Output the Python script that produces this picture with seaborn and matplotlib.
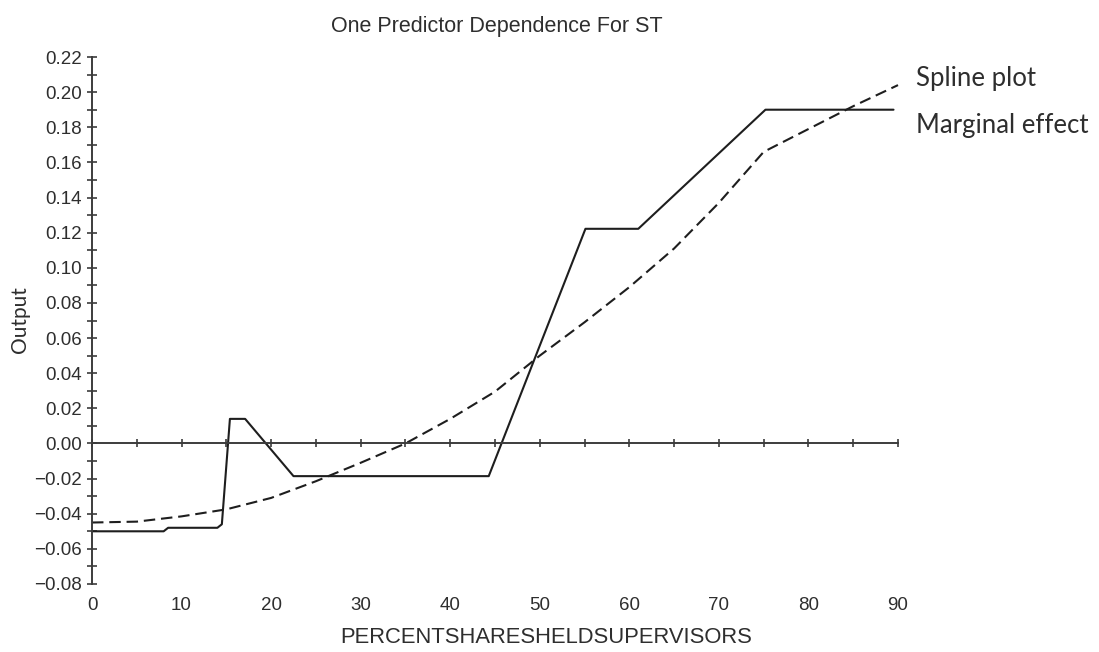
import numpy as np
import pandas as pd
import matplotlib
matplotlib.use("Agg")
import matplotlib.pyplot as plt
from matplotlib.ticker import MultipleLocator
import seaborn as sns

# ---- data ----
marginal_x = [0, 8, 8.5, 14, 14.5, 15.4, 17.1, 22.5, 44.3, 55.1, 61.0, 75.2, 89.5]
marginal_y = [-0.050, -0.050, -0.048, -0.048, -0.046, 0.014, 0.014, -0.0186,
              -0.0186, 0.1222, 0.1222, 0.190, 0.190]

spline_x = [0, 5, 10, 15, 20, 25, 30, 35, 40, 45, 50, 55, 60, 65, 70, 75, 80, 85, 90]
spline_y = [-0.045, -0.0445, -0.0415, -0.0375, -0.031, -0.0215, -0.011, 0.000,
            0.014, 0.0295, 0.050, 0.069, 0.089, 0.111, 0.137, 0.166, 0.179,
            0.192, 0.204]

x_ticklabels = [0, 10, 20, 30, 40, 50, 60, 70, 80, 90]
y_ticks = [-0.08, -0.06, -0.04, -0.02, 0.00, 0.02, 0.04, 0.06, 0.08, 0.10,
           0.12, 0.14, 0.16, 0.18, 0.20, 0.22]

title = "One Predictor Dependence For ST"
xlabel = "PERCENTSHARESHELDSUPERVISORS"
ylabel = "Output"
series_names = ["Spline plot", "Marginal effect"]

# ---- style ----
sns.set_theme(style="white")
plt.rcParams["font.family"] = ["Liberation Sans", "DejaVu Sans"]

W, H = 1099, 652
fig = plt.figure(figsize=(W / 100, H / 100), dpi=100)
ax = fig.add_axes([92 / W, 1 - 584 / H, 806 / W, 527 / H])

line_col = "#1e1e1e"
axis_col = "#3c3c3c"
text_col = "#2e2e2e"

df_m = pd.DataFrame({"x": marginal_x, "y": marginal_y})
df_s = pd.DataFrame({"x": spline_x, "y": spline_y})

sns.lineplot(data=df_m, x="x", y="y", ax=ax, sort=False, estimator=None,
             color=line_col, lw=1.5, clip_on=False)
sns.lineplot(data=df_s, x="x", y="y", ax=ax, sort=False, estimator=None,
             color=line_col, lw=1.5, linestyle=(0, (5.5, 2.8)), clip_on=False)

ax.set_xlim(0, 90)
ax.set_ylim(-0.08, 0.22)

# spines
for s in ["top", "right"]:
    ax.spines[s].set_visible(False)
ax.spines["left"].set_position(("data", 0))
ax.spines["bottom"].set_position(("data", 0))
for s in ["left", "bottom"]:
    ax.spines[s].set_color(axis_col)
    ax.spines[s].set_linewidth(1.4)

# y ticks
ax.set_yticks(y_ticks)
ax.set_yticklabels([f"{v:.2f}".replace("-", "\u2212") for v in y_ticks])
ax.yaxis.set_minor_locator(MultipleLocator(0.01))
ax.tick_params(axis="y", which="both", direction="inout", length=7, width=1.2,
               color=axis_col, labelsize=13.5, labelcolor=text_col, pad=4, left=True)

# x ticks on the zero line, labels at the bottom via a secondary axis
ax.xaxis.set_major_locator(MultipleLocator(5))
ax.tick_params(axis="x", which="both", direction="inout", length=6, width=1.2,
               color=axis_col, labelbottom=False, bottom=True)
sec = ax.secondary_xaxis(0.0)
sec.set_xticks(x_ticklabels)
sec.set_xticklabels([str(v) for v in x_ticklabels])
sec.spines["bottom"].set_visible(False)
sec.tick_params(axis="x", length=0, pad=9, labelsize=13.5, labelcolor=text_col)

ax.set_xlabel("")
ax.set_ylabel("")

# texts
fig.text(497 / W, 1 - 32 / H, title, ha="center", va="baseline",
         fontsize=15.5, color=text_col)
fig.text(546 / W, 1 - 643 / H, xlabel, ha="center", va="baseline",
         fontsize=15.8, color=text_col)
fig.text(20 / W, 1 - 320 / H, ylabel, ha="center", va="center", rotation=90,
         fontsize=15, color=text_col, family=["Lato", "DejaVu Sans"])
fig.text(916 / W, 1 - 86 / H, series_names[0], ha="left", va="baseline",
         fontsize=18.5, color=text_col, family=["Lato", "DejaVu Sans"])
fig.text(916 / W, 1 - 133 / H, series_names[1], ha="left", va="baseline",
         fontsize=18.5, color=text_col, family=["Lato", "DejaVu Sans"])

fig.savefig("out.png", dpi=100, facecolor="white")
